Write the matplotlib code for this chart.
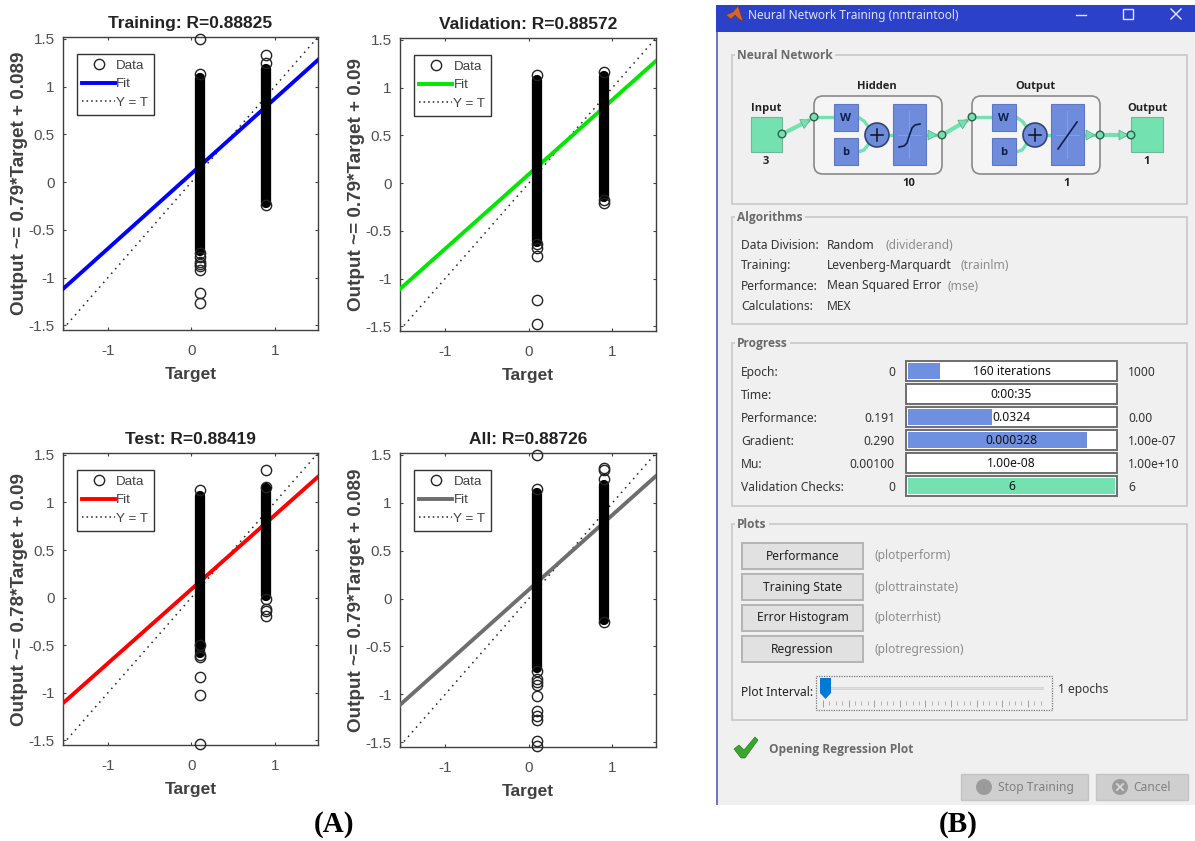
import numpy as np
import matplotlib
matplotlib.use("Agg")
import matplotlib.pyplot as plt
from matplotlib.patches import Rectangle, FancyBboxPatch, Circle, Polygon
from matplotlib.lines import Line2D

W, H = 1195, 841

# Regression panels
panel_titles = ["Training: R=0.88825", "Validation: R=0.88572", "Test: R=0.88419", "All: R=0.88726"]
panel_ylabels = ["Output ~= 0.79*Target + 0.089", "Output ~= 0.79*Target + 0.09",
                 "Output ~= 0.78*Target + 0.09", "Output ~= 0.79*Target + 0.089"]
panel_colors = ["#0000ff", "#00e800", "#ff0000", "#6e6e6e"]
fit_left = [-1.12, -1.11, -1.11, -1.11]
fit_right = [1.28, 1.28, 1.27, 1.28]

# dense part of each column (low, high), the circles merge to solid black there
dense_low = [-0.72, -0.62, -0.58, -0.72]
dense_high = [1.09, 1.08, 1.07, 1.10]
dense_low_hi = [-0.22, -0.15, 0.02, -0.22]
dense_high_hi = [1.18, 1.12, 1.15, 1.19]

# single circles around Target = 0.1 and Target = 0.9
out_low = [
    [1.50, 1.13, -0.74, -0.78, -0.84, -0.86, -0.88, -0.92, -1.16, -1.27],
    [1.13, -0.64, -0.68, -0.76, -1.23, -1.48],
    [1.13, -0.50, -0.60, -0.62, -0.83, -1.02, -1.54],
    [1.50, 1.14, -0.76, -0.84, -0.87, -0.90, -1.02, -1.17, -1.23, -1.27, -1.49, -1.54],
]
out_high = [
    [1.33, 1.25, -0.24],
    [1.16, -0.18, -0.21],
    [1.34, 1.16, -0.02, -0.12, -0.14, -0.19],
    [1.36, 1.34, 1.25, -0.24],
]
target_low = 0.1
target_high = 0.9

# Training tool text
algo_labels = ["Data Division:", "Training:", "Performance:", "Calculations:"]
algo_values = ["Random", "Levenberg-Marquardt", "Mean Squared Error", "MEX"]
algo_funcs = ["(dividerand)", "(trainlm)", "(mse)", ""]
prog_labels = ["Epoch:", "Time:", "Performance:", "Gradient:", "Mu:", "Validation Checks:"]
prog_start = ["0", "", "0.191", "0.290", "0.00100", "0"]
prog_text = ["160 iterations", "0:00:35", "0.0324", "0.000328", "1.00e-08", "6"]
prog_end = ["1000", "", "0.00", "1.00e-07", "1.00e+10", "6"]
prog_fill = [0.156, 0, 0.407, 0.866, 0, 1.0]
plot_buttons = ["Performance", "Training State", "Error Histogram", "Regression"]
plot_funcs = ["(plotperform)", "(plottrainstate)", "(ploterrhist)", "(plotregression)"]

plt.rcParams['font.family'] = ['Liberation Sans', 'DejaVu Sans']

fig = plt.figure(figsize=(W / 100, H / 100), dpi=100)
fig.patch.set_facecolor("white")

# pixel boxes of the four panels: left, top, right, bottom
boxes = [(63, 37, 318, 330), (400, 38, 656, 331), (63, 453, 318, 745), (400, 453, 656, 747)]

for i in range(4):
    l, t, r, b = boxes[i]
    ax = fig.add_axes([l / W, 1 - b / H, (r - l) / W, (b - t) / H])
    ax.set_xlim(-1.54, 1.52)
    ax.set_ylim(-1.55, 1.52)

    ax.plot([-1.54, 1.52], [-1.54, 1.52], color="#222222", lw=1.1, ls=(0, (1, 3)), label="Y = T", zorder=2)
    ax.plot([-1.54, 1.52], [fit_left[i], fit_right[i]], color=panel_colors[i], lw=2.8, zorder=3)
    ax.plot([target_low, target_low], [dense_low[i], dense_high[i]], color="black", lw=7.4,
            solid_capstyle="round", zorder=4)
    ax.plot([target_high, target_high], [dense_low_hi[i], dense_high_hi[i]], color="black", lw=7.4,
            solid_capstyle="round", zorder=4)
    ax.plot([target_low] * len(out_low[i]), out_low[i], "o", mfc="none", mec="#222222", ms=7.4, mew=1.0,
            clip_on=False, zorder=5)
    ax.plot([target_high] * len(out_high[i]), out_high[i], "o", mfc="none", mec="#222222", ms=7.4, mew=1.0,
            clip_on=False, zorder=5)

    ax.set_xticks([-1, 0, 1])
    ax.set_xticklabels(["-1", "0", "1"])
    ax.set_yticks([-1.5, -1, -0.5, 0, 0.5, 1, 1.5])
    ax.set_yticklabels(["-1.5", "-1", "-0.5", "0", "0.5", "1", "1.5"])
    ax.tick_params(direction="in", length=2.5, width=0.8, color="#404040", labelcolor="#505050",
                   labelsize=11, top=True, right=True)
    ax.tick_params(axis="x", pad=10)
    ax.tick_params(axis="y", pad=6)
    for s in ax.spines.values():
        s.set_color("#404040")
        s.set_linewidth(1.0)

    ax.set_title(panel_titles[i], fontsize=12.5, fontweight="bold", color="#222222", pad=6.5)
    ax.set_xlabel("Target", fontsize=12.5, fontweight="bold", color="#404040", labelpad=6.5)
    ax.set_ylabel(panel_ylabels[i], fontsize=13.6, fontweight="bold", color="#404040", labelpad=0.5)

    handles = [Line2D([], [], marker="o", ls="none", mfc="none", mec="#222222", ms=7.4, mew=1.0),
               Line2D([], [], color=panel_colors[i], lw=2.8),
               Line2D([], [], color="#222222", lw=1.1, ls=(0, (1, 2)))]
    leg = ax.legend(handles, ["Data", "Fit", "Y = T"], loc="upper left",
                    bbox_to_anchor=(0.054, 0.943), borderaxespad=0, fontsize=9.6, fancybox=False,
                    framealpha=1, edgecolor="#333333", handlelength=2.45, handletextpad=0.1,
                    labelspacing=0.48, borderpad=0.42, labelcolor="#404040")
    leg.get_frame().set_linewidth(1.0)
    leg.set_zorder(6)

# Everything for panel (B) is placed on a full figure axes in pixels
ui = fig.add_axes([0, 0, 1, 1], facecolor="none")
ui.set_xlim(0, W)
ui.set_ylim(H, 0)
ui.axis("off")

UI_FONT = ['Noto Sans', 'DejaVu Sans']
UI_BOLD = ['Open Sans', 'DejaVu Sans']
GREEN = "#74e2b0"
BLUE = "#6f8fe0"
BOX_BLUE = "#6f8cdc"


def rect(x0, y0, x1, y1, fc="none", ec="none", lw=1.0, z=2, **kw):
    ui.add_patch(Rectangle((x0, y0), x1 - x0, y1 - y0, fc=fc, ec=ec, lw=lw, zorder=z, **kw))


def label(x, y, s, color="#333333", size=8.7, ha="left", weight="normal", z=6):
    fam = UI_BOLD if weight == "bold" else UI_FONT
    ui.text(x, y, s, color=color, fontsize=size, ha=ha, va="center", fontweight=weight, family=fam, zorder=z)


def group(x0, y0, x1, y1, title):
    rect(x0, y0, x1, y1, ec="#c8c8c8", lw=1.2, z=2)
    ui.text(x0 + 5, y0, title, color="#6a6a6a", fontsize=8.6, fontweight="bold", ha="left", va="center",
            family=UI_BOLD, zorder=4, bbox=dict(fc="#f0f0f0", ec="none", pad=1.5))


def link(pts, lw=2.4):
    ui.plot([p[0] for p in pts], [p[1] for p in pts], color=GREEN, lw=lw, solid_capstyle="butt", zorder=3)


def arrow_head(x, y, dx, dy, size=9):
    n = np.hypot(dx, dy)
    dx, dy = dx / n, dy / n
    ui.add_patch(Polygon([(x, y), (x - dx * size - dy * size * 0.55, y - dy * size + dx * size * 0.55),
                          (x - dx * size + dy * size * 0.55, y - dy * size - dx * size * 0.55)],
                         fc=GREEN, ec="#5aa88a", lw=0.5, zorder=4))


def node(x, y):
    ui.add_patch(Circle((x, y), 3.8, fc=GREEN, ec="#2f5f4c", lw=1.0, zorder=6))


def blue_box(x0, y0, x1, y1):
    rect(x0 + 1, y0 + 1, x1 + 1, y1 + 1, fc="#8c9bb8", z=3)
    rect(x0, y0, x1, y1, fc=BOX_BLUE, ec="#5d78c0", lw=0.8, z=4)


def layer(x0, top_name, size_text, linear):
    ui.add_patch(FancyBboxPatch((x0, 96), 128, 78, boxstyle="round,pad=0,rounding_size=9",
                                fc="#f5f5f5", ec="#8a8a8a", lw=1.2, zorder=2))
    label(x0 + 63, 86, top_name, color="#222222", size=8, ha="center", weight="bold")
    link([(x0, 117), (x0 + 20, 117)])
    xs = [x0 + 44, x0 + 50, x0 + 57]
    link([(xs[0], 117), (xs[1], 121), (xs[2], 130)])
    link([(xs[0], 152), (xs[1], 150), (xs[2], 141)])
    link([(x0 + 75, 135), (x0 + 79, 135)])
    blue_box(x0 + 20, 104, x0 + 44, 131)
    blue_box(x0 + 20, 138, x0 + 44, 165)
    label(x0 + 32, 118, "W", color="#10204a", size=8.2, ha="center", weight="bold")
    label(x0 + 32, 152, "b", color="#10204a", size=8.2, ha="center", weight="bold")
    ui.add_patch(Circle((x0 + 63, 135), 12, fc=BOX_BLUE, ec="#33456f", lw=1.2, zorder=4))
    ui.plot([x0 + 57, x0 + 69], [135, 135], color="#111111", lw=1.1, zorder=5)
    ui.plot([x0 + 63, x0 + 63], [129, 141], color="#111111", lw=1.1, zorder=5)
    blue_box(x0 + 79, 104, x0 + 112, 165)
    ui.plot([x0 + 95.5, x0 + 95.5], [111, 158], color="#86a0e6", lw=0.7, zorder=5)
    ui.plot([x0 + 84, x0 + 107], [135, 135], color="#86a0e6", lw=0.7, zorder=5)
    if linear:
        ui.plot([x0 + 86, x0 + 105], [149, 122], color="#10204a", lw=1.2, zorder=6)
    else:
        ui.plot([x0 + 85, x0 + 90, x0 + 93, x0 + 95.5, x0 + 98, x0 + 101, x0 + 106],
                [147, 146, 143, 135, 128, 125, 124], color="#10204a", lw=1.2, zorder=6)
    link([(x0 + 112, 135), (x0 + 128, 135)])
    arrow_head(x0 + 123, 135, 1, 0)
    label(x0 + size_text[1], 183, size_text[0], color="#222222", size=8, ha="center", weight="bold")


# window
rect(716, 5, 1195, 805, fc="#f0f0f0", z=1)
rect(716, 5, 718, 805, fc="#6c78bb", z=2)
rect(716, 5, 1195, 32, fc="#2b41c9", z=2)
ui.add_patch(Polygon([(726, 15), (733, 12), (738, 6), (743, 21), (739, 19), (735, 15), (731, 19)],
                     fc="#d9632a", ec="#7a3a20", lw=0.4, zorder=3))
ui.text(748, 15.5, "Neural Network Training (nntraintool)", color="#dfe3f7", fontsize=8.5, ha="left",
        va="center", family=UI_FONT, zorder=4)
ui.plot([1076, 1086], [15, 15], color="#e6e9fa", lw=1.0, zorder=4)
rect(1123, 9, 1133, 19, ec="#e6e9fa", lw=1.0, z=4)
ui.plot([1171, 1181], [9, 19], color="#e6e9fa", lw=1.0, zorder=4)
ui.plot([1171, 1181], [19, 9], color="#e6e9fa", lw=1.0, zorder=4)

group(732, 55, 1187, 204, "Neural Network")
group(732, 217, 1187, 324, "Algorithms")
group(732, 343, 1187, 506, "Progress")
group(732, 524, 1187, 720, "Plots")

# network diagram
rect(752, 118, 783, 153, fc="#8f9f98", z=2)
rect(751, 117, 782, 152, fc=GREEN, ec="#6fb79a", lw=0.8, z=3)
rect(1132, 118, 1164, 153, fc="#8f9f98", z=2)
rect(1131, 117, 1163, 152, fc=GREEN, ec="#6fb79a", lw=0.8, z=3)
label(766, 108, "Input", color="#222222", size=8, ha="center", weight="bold")
label(766, 161, "3", color="#222222", size=8, ha="center", weight="bold")
label(1147, 108, "Output", color="#222222", size=8, ha="center", weight="bold")
label(1147, 161, "1", color="#222222", size=8, ha="center", weight="bold")
layer(814, "Hidden", ("10", 95), False)
layer(972, "Output", ("1", 95), True)
link([(782, 134), (810, 120)], lw=3)
arrow_head(810, 120, 28, -14)
link([(942, 135), (968, 120)], lw=3)
arrow_head(968, 120, 26, -15)
link([(1100, 135), (1130, 135)], lw=3)
arrow_head(1128, 135, 1, 0)
for nx, ny in [(782, 134), (814, 117), (942, 135), (972, 117), (1100, 135), (1131, 135)]:
    node(nx, ny)

# algorithms
algo_y = [245, 265.5, 286, 306.5]
func_x = [886, 961, 948, 0]
for i in range(4):
    label(741, algo_y[i], algo_labels[i])
    label(827, algo_y[i], algo_values[i])
    if algo_funcs[i]:
        label(func_x[i], algo_y[i], algo_funcs[i], color="#8c8c8c")

# progress bars
bar_y = [371, 394, 417, 440, 463, 486]
for i in range(6):
    y = bar_y[i]
    label(741, y + 1, prog_labels[i])
    label(895, y + 1, prog_start[i], ha="right")
    label(1128, y + 1, prog_end[i])
    rect(906, y - 10, 1117, y + 10, fc="white", ec="#6e6e6e", lw=1.4, z=3)
    if prog_fill[i] > 0:
        fc = GREEN if i == 5 else BLUE
        rect(908, y - 8, 908 + 207 * prog_fill[i], y + 8, fc=fc, z=4)
    label(1011.5, y, prog_text[i], color="#111111", ha="center")

# plot buttons
btn_top = [543, 574, 605, 636]
for i in range(4):
    y = btn_top[i]
    rect(742, y, 863, y + 26, fc="#e1e1e1", ec="#b4b4b4", lw=1.4, z=3)
    label(802.5, y + 13, plot_buttons[i], color="#222222", ha="center")
    label(875, y + 13, plot_funcs[i], color="#8c8c8c")

# slider
label(741, 693, "Plot Interval:", color="#222222")
rect(816, 676, 1052, 710, ec="#777777", lw=0.9, ls=(0, (1, 1)), z=3)
rect(822, 687, 1043, 689, fc="#dddddd", ec="#d0d0d0", lw=0.5, z=3)
ui.vlines(np.arange(823, 1045, 6.4), 701, 705, color="#b0b0b0", lw=0.7, zorder=3)
ui.vlines(np.arange(823, 1045, 25.6), 700, 707, color="#a0a0a0", lw=0.7, zorder=3)
ui.add_patch(Polygon([(820, 678), (831, 678), (831, 693), (825.5, 699), (820, 693)], fc="#0078d7", ec="none", zorder=5))
label(1058, 689, "1 epochs")

# status line
ui.add_patch(Polygon([(734, 749), (739, 745), (744, 750), (755, 737), (758, 740), (745, 758), (741, 758)],
                     fc="#38a82c", ec="#2b7d24", lw=0.5, zorder=4))
label(769, 749, "Opening Regression Plot", color="#6a6a6a", size=8.6, weight="bold")

# disabled buttons
rect(961, 774, 1088, 800, fc="#cfcfcf", ec="#c4c4c4", lw=1, z=3)
rect(1096, 774, 1188, 800, fc="#cfcfcf", ec="#c4c4c4", lw=1, z=3)
ui.add_patch(Circle((984, 787), 8, fc="#9b9b9b", ec="none", zorder=4))
ui.add_patch(Circle((1120, 787), 8, fc="#9b9b9b", ec="none", zorder=4))
ui.plot([1117, 1123], [784, 790], color="#d8d8d8", lw=1.3, zorder=5)
ui.plot([1117, 1123], [790, 784], color="#d8d8d8", lw=1.3, zorder=5)
label(998, 787.5, "Stop Training", color="#808080", size=8.7)
label(1133, 787.5, "Cancel", color="#808080", size=8.7)

# panel letters
ui.text(334, 825, "(A)", fontsize=21, fontweight="bold", ha="center", va="center", color="black",
        family=['Liberation Serif', 'DejaVu Serif'])
ui.text(958, 825, "(B)", fontsize=21, fontweight="bold", ha="center", va="center", color="black",
        family=['Liberation Serif', 'DejaVu Serif'])

fig.savefig("out.png", dpi=100)
